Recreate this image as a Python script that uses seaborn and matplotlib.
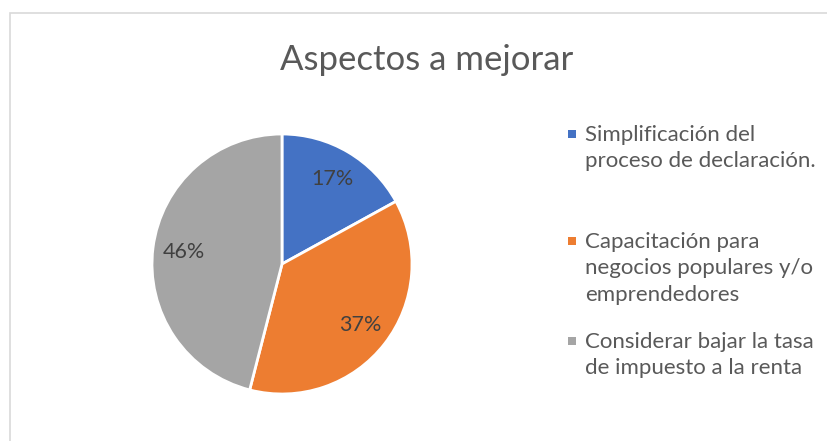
import matplotlib
matplotlib.use("Agg")
import matplotlib.pyplot as plt
import seaborn as sns
from matplotlib.patches import Rectangle

sns.set_theme(style="white")
plt.rcParams['font.family'] = ['Lato', 'DejaVu Sans']

title = "Aspectos a mejorar"
categories = [
    "Simplificación del\nproceso de declaración.",
    "Capacitación para\nnegocios populares y/o\nemprendedores",
    "Considerar bajar la tasa\nde impuesto a la renta",
]
values = [17, 37, 46]
colors = ["#4472C4", "#ED7D31", "#A5A5A5"]

W, H = 828, 441
fig = plt.figure(figsize=(W / 100, H / 100), dpi=100)
fig.patch.set_facecolor("white")

# chart border
fig.add_artist(Rectangle((9.5 / W, -0.05), 1.2, 1.05 - 13.5 / H,
                         transform=fig.transFigure, fill=False,
                         edgecolor="#D9D9D9", linewidth=1.2))

cx, cy, r = 282, 264, 130
ax = fig.add_axes([(cx - r) / W, (H - cy - r) / H, 2 * r / W, 2 * r / H])
wedges, texts, autotexts = ax.pie(
    values, colors=colors, startangle=90, counterclock=False,
    autopct=lambda p: f"{p:.0f}%", pctdistance=0.76,
    wedgeprops=dict(edgecolor="white", linewidth=2),
    textprops=dict(color="#404040", fontsize=15.5),
)
ax.set_aspect("equal")
ax.set_xlim(-1, 1)
ax.set_ylim(-1, 1)
ax.axis("off")

fig.text(427 / W, 1 - 60 / H, title, ha="center", va="center",
         fontsize=25, color="#595959")

# legend: square key aligned with the first line of each wrapped label
baselines = [143, 250, 350]
for w, lab, base in zip(wedges, categories, baselines):
    fig.add_artist(Rectangle((568 / W, 1 - (base - 5) / H), 8 / W, 8 / H,
                             transform=fig.transFigure,
                             facecolor=w.get_facecolor(), edgecolor="none"))
    fig.text(585 / W, 1 - (base - 18) / H, lab, ha="left", va="top",
             fontsize=16, color="#595959", linespacing=1.4)

fig.savefig("out.png", dpi=100, facecolor="white")
